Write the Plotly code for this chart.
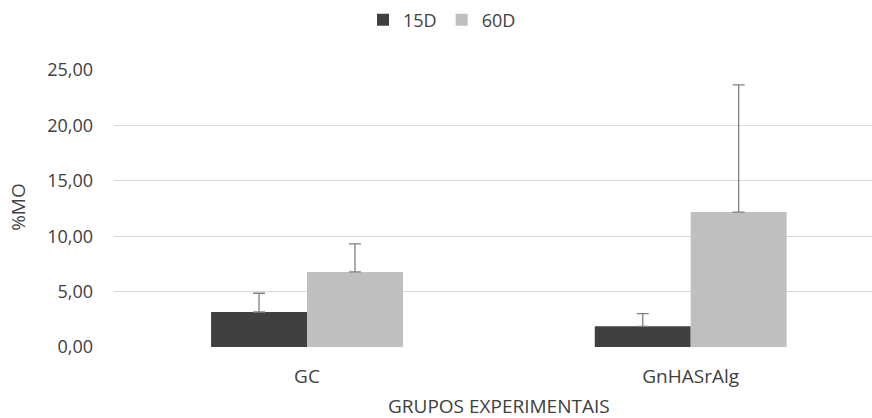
import plotly.graph_objects as go

categories = ["GC", "GnHASrAlg"]
series_names = ["15D", "60D"]
values_15d = [3.16, 1.87]
values_60d = [6.78, 12.18]
err_15d = [1.69, 1.15]
err_60d = [2.52, 11.47]
y_ticks = [0, 5, 10, 15, 20, 25]

W, H = 872, 418
L, R = 114, 0
T, B = 70, 70.7
pw = W - L - R
ph = H - T - B

font_family = "Open Sans"
txt_color = "#404040"

fig = go.Figure()
for name, vals, errs, col in [
    (series_names[0], values_15d, err_15d, "#404040"),
    (series_names[1], values_60d, err_60d, "#bfbfbf"),
]:
    fig.add_trace(go.Bar(
        x=categories, y=vals, name=name,
        marker=dict(color=col, line=dict(width=0)),
        error_y=dict(type="data", array=errs, arrayminus=[0] * len(errs),
                     symmetric=False, color="#808080", thickness=1.3, width=6),
    ))

def px_x(p):
    return (p - L) / pw

def px_y(p):
    return (H - B - p) / ph

fig.update_layout(
    width=W, height=H,
    margin=dict(l=L, r=R, t=T, b=B, pad=0),
    paper_bgcolor="white", plot_bgcolor="white",
    barmode="group", bargap=0.5, bargroupgap=0,
    separators=",.",
    font=dict(family=font_family, size=18, color=txt_color),
    showlegend=True,
    legend=dict(orientation="h", x=px_x(442), xanchor="center",
                y=px_y(20), yanchor="middle",
                font=dict(size=18, color=txt_color),
                itemwidth=30, traceorder="normal"),
    xaxis=dict(range=[-0.503, 1.4725], showgrid=False, zeroline=False,
               showline=False, ticks="", ticklabelstandoff=16,
               tickfont=dict(size=19, color=txt_color)),
    yaxis=dict(range=[0, 25], tickvals=y_ticks, tickformat=".2f",
               showgrid=True, gridcolor="#d9d9d9", gridwidth=1,
               zeroline=False, showline=False, ticks="",
               ticklabelstandoff=20,
               tickfont=dict(size=18, color=txt_color)),
    annotations=[
        dict(text="GRUPOS EXPERIMENTAIS", xref="paper", yref="paper",
             x=px_x(499), y=px_y(406), xanchor="center", yanchor="middle",
             showarrow=False, font=dict(size=19, color=txt_color)),
        dict(text="%MO", xref="paper", yref="paper",
             x=px_x(18), y=px_y(207), xanchor="center", yanchor="middle",
             textangle=-90, showarrow=False, font=dict(size=19, color=txt_color)),
    ],
)

fig.write_html("out.html", config={"displayModeBar": False},
               post_script="document.body.style.margin='0';document.body.style.overflow='hidden';")
